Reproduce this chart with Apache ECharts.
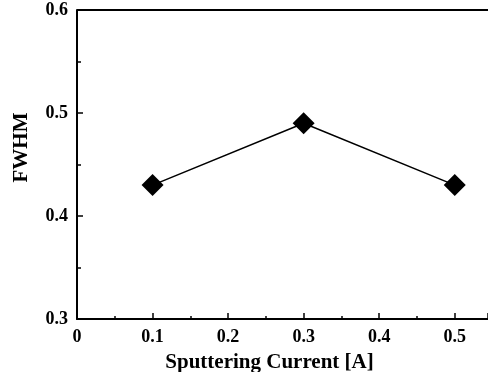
<!DOCTYPE html>
<html><head><meta charset="utf-8">
<script src="https://cdn.jsdelivr.net/npm/echarts@6/dist/echarts.min.js"></script>
<style>html,body{margin:0;padding:0;background:#fff}#c{width:488px;height:372px}</style>
</head><body><div id="c"></div>
<script>
const currents = [0.1, 0.3, 0.5];
const fwhm = [0.43, 0.49, 0.43];
const xTicks = [0, 0.1, 0.2, 0.3, 0.4, 0.5];
const yTicks = [0.3, 0.4, 0.5, 0.6];

const font = '"Liberation Serif", "Times New Roman", serif';
const chart = echarts.init(document.getElementById('c'));
chart.setOption({
  animation: false,
  grid: {left: 77, right: 0, top: 10, bottom: 53, outerBoundsMode: 'none', containLabel: false},
  xAxis: {
    type: 'value', min: 0, max: 0.544, interval: 0.1,
    name: 'Sputtering Current [A]', nameLocation: 'middle', nameGap: 33,
    nameTextStyle: {fontFamily: font, fontWeight: 'bold', fontSize: 21, color: '#000', padding: [0, 26, 0, 0]},
    axisLine: {show: true, lineStyle: {color: '#000', width: 2}},
    axisTick: {show: true, inside: true, length: 6, lineStyle: {color: '#000', width: 1.5}},
    minorTick: {show: true, splitNumber: 2, length: 3, lineStyle: {color: '#000', width: 1.5}},
    axisLabel: {fontFamily: font, fontWeight: 'bold', fontSize: 18, color: '#000', margin: 9,
      showMaxLabel: false,
      formatter: v => { const r = Math.round(v*100)/100; return xTicks.some(t => Math.abs(t - r) < 1e-9) ? String(r) : ''; }},
    splitLine: {show: false}
  },
  yAxis: {
    type: 'value', min: 0.3, max: 0.6, interval: 0.1,
    name: 'FWHM', nameLocation: 'middle', nameGap: 45, nameRotate: 90,
    nameTextStyle: {fontFamily: font, fontWeight: 'bold', fontSize: 21, color: '#000', padding: [0, 0, 0, 34]},
    axisLine: {show: true, lineStyle: {color: '#000', width: 2}},
    axisTick: {show: true, inside: true, length: 6, lineStyle: {color: '#000', width: 1.5}},
    minorTick: {show: true, splitNumber: 2, length: 4, lineStyle: {color: '#000', width: 1.5}},
    axisLabel: {fontFamily: font, fontWeight: 'bold', fontSize: 18, color: '#000', margin: 9,
      formatter: v => { const r = Math.round(v*100)/100; return yTicks.some(t => Math.abs(t - r) < 1e-9) ? r.toFixed(1) : ''; }},
    splitLine: {show: false}
  },
  series: [{
    type: 'line',
    data: currents.map((x, i) => [x, fwhm[i]]),
    symbol: 'diamond', symbolSize: 22,
    itemStyle: {color: '#000'},
    lineStyle: {color: '#000', width: 1.5}
  }, {
    type: 'line', data: [[0, 0.6], [0.544, 0.6]], symbol: 'none',
    lineStyle: {color: '#000', width: 2}, silent: true
  }]
});
</script></body></html>
